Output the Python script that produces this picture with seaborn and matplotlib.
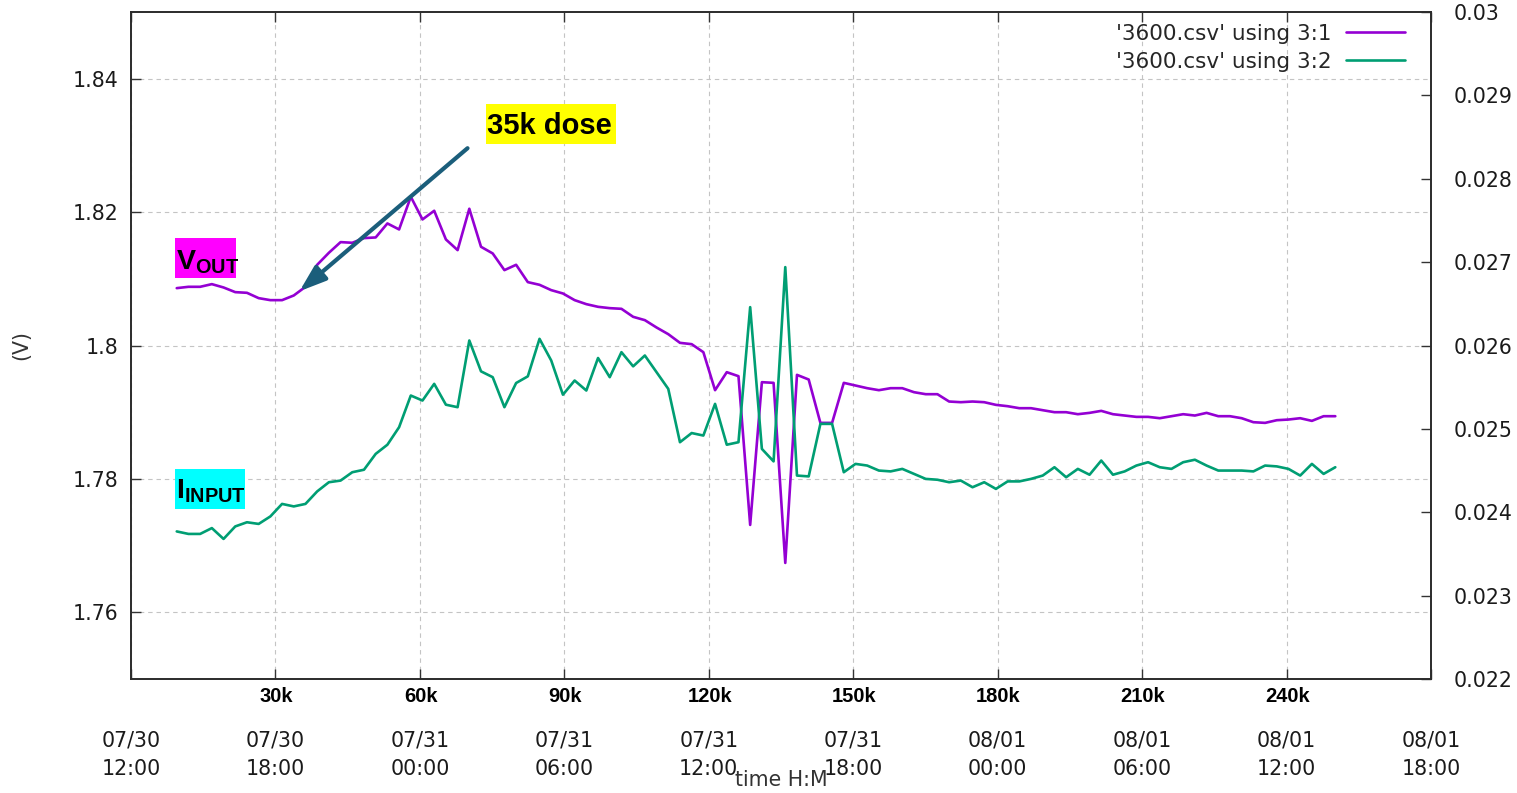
import numpy as np
import pandas as pd
import matplotlib
matplotlib.use("Agg")
import matplotlib.pyplot as plt
import matplotlib.dates as mdates
import matplotlib.transforms as mtransforms
from matplotlib.patches import Rectangle
from matplotlib.ticker import FixedLocator, FuncFormatter
import seaborn as sns

# ---- 3600.csv: column 1 = output voltage (V), column 2 = input current (A), column 3 = time
first_sample = "2024-07-30 13:54"
sample_interval = "1750s"

vout = [1.8086, 1.8088, 1.8088, 1.8092, 1.8087, 1.8080, 1.8079, 1.8071, 1.8068, 1.8068,
        1.8075, 1.8088, 1.8121, 1.8139, 1.8155, 1.8154, 1.8161, 1.8162, 1.8183, 1.8174,
        1.8223, 1.8189, 1.8202, 1.8159, 1.8143, 1.8205, 1.8148, 1.8138, 1.8113, 1.8121,
        1.8095, 1.8091, 1.8083, 1.8078, 1.8068, 1.8062, 1.8058, 1.8056, 1.8055, 1.8043,
        1.8038, 1.8027, 1.8017, 1.8004, 1.8002, 1.7990, 1.7933, 1.7960, 1.7954, 1.7731,
        1.7945, 1.7944, 1.7674, 1.7956, 1.7949, 1.7884, 1.7884, 1.7944, 1.7940, 1.7936,
        1.7933, 1.7936, 1.7936, 1.7930, 1.7927, 1.7927, 1.7916, 1.7915, 1.7916, 1.7915,
        1.7911, 1.7909, 1.7906, 1.7906, 1.7903, 1.7900, 1.7900, 1.7897, 1.7899, 1.7902,
        1.7897, 1.7895, 1.7893, 1.7893, 1.7891, 1.7894, 1.7897, 1.7895, 1.7899, 1.7894,
        1.7894, 1.7891, 1.7885, 1.7884, 1.7888, 1.7889, 1.7891, 1.7887, 1.7894, 1.7894]

iinput = [0.02377, 0.02374, 0.02374, 0.02381, 0.02368, 0.02383, 0.02388, 0.02386, 0.02395, 0.02410,
          0.02407, 0.02410, 0.02425, 0.02436, 0.02438, 0.02448, 0.02451, 0.02470, 0.02481, 0.02502,
          0.02540, 0.02534, 0.02554, 0.02529, 0.02526, 0.02606, 0.02569, 0.02562, 0.02526, 0.02555,
          0.02563, 0.02608, 0.02582, 0.02541, 0.02558, 0.02546, 0.02585, 0.02562, 0.02592, 0.02575,
          0.02588, 0.02568, 0.02548, 0.02484, 0.02495, 0.02492, 0.02530, 0.02481, 0.02484, 0.02646,
          0.02476, 0.02461, 0.02694, 0.02444, 0.02443, 0.02506, 0.02506, 0.02448, 0.02458, 0.02456,
          0.02450, 0.02449, 0.02452, 0.02446, 0.02440, 0.02439, 0.02436, 0.02438, 0.02430, 0.02436,
          0.02428, 0.02437, 0.02437, 0.02440, 0.02444, 0.02454, 0.02442, 0.02452, 0.02445, 0.02462,
          0.02445, 0.02449, 0.02456, 0.02460, 0.02454, 0.02452, 0.02460, 0.02463, 0.02456, 0.02450,
          0.02450, 0.02450, 0.02449, 0.02456, 0.02455, 0.02452, 0.02444, 0.02458, 0.02446, 0.02454]

series_labels = ["'3600.csv' using 3:1", "'3600.csv' using 3:2"]

# ---- axis ranges and dose scale
window_start = "2024-07-30 12:00"
window_end = "2024-08-01 18:00"
vout_range = (1.75, 1.85)
vout_ticks = [1.76, 1.78, 1.80, 1.82, 1.84]
iinput_range = (0.022, 0.030)
iinput_ticks = [0.022, 0.023, 0.024, 0.025, 0.026, 0.027, 0.028, 0.029, 0.030]
dose_rate_k_per_hour = 5
dose_ticks_k = [30, 60, 90, 120, 150, 180, 210, 240]
marked_dose_k = 35

PURPLE = "#9400D3"
GREEN = "#009E73"
ARROW = "#1b5e7b"
INK = "#1a1a1a"

sns.set_style("white")
plt.rcParams["font.family"] = ["DejaVu Sans"]
plt.rcParams["mathtext.fontset"] = "custom"
plt.rcParams["mathtext.bf"] = "Liberation Sans:bold"
plt.rcParams["mathtext.rm"] = "Liberation Sans"

df = pd.DataFrame({
    "time": pd.date_range(first_sample, periods=len(vout), freq=sample_interval),
    "vout": vout,
    "iinput": iinput,
})

W, H = 1517, 793
fig = plt.figure(figsize=(W / 100, H / 100), dpi=100)
ax = fig.add_axes([131 / W, 114 / H, 1300 / W, 667 / H])
ax2 = ax.twinx()

sns.lineplot(data=df, x="time", y="vout", ax=ax, color=PURPLE, linewidth=1.9, legend=False)
sns.lineplot(data=df, x="time", y="iinput", ax=ax2, color=GREEN, linewidth=1.9, legend=False)

t0 = pd.Timestamp(window_start)
ax.set_xlim(t0, pd.Timestamp(window_end))
ax.set_ylim(*vout_range)
ax2.set_ylim(*iinput_range)

FS = 14.8
ax.xaxis.set_major_locator(mdates.HourLocator(byhour=[0, 6, 12, 18]))
ax.xaxis.set_major_formatter(mdates.DateFormatter("%m/%d\n%H:%M"))
ax.yaxis.set_major_locator(FixedLocator(vout_ticks))
ax.yaxis.set_major_formatter(FuncFormatter(lambda v, p: f"{round(v, 4):g}"))
ax2.yaxis.set_major_locator(FixedLocator(iinput_ticks))
ax2.yaxis.set_major_formatter(FuncFormatter(lambda v, p: f"{round(v, 5):g}"))

ax.tick_params(axis="x", direction="in", length=7, width=1, top=True, bottom=True,
               pad=37, labelsize=FS, labelcolor=INK, color="#333333")
ax.tick_params(axis="y", direction="in", length=7, width=1, left=True, right=False,
               pad=9, labelsize=FS, labelcolor=INK, color="#333333")
ax2.tick_params(axis="y", direction="in", length=7, width=1, right=True,
                pad=16, labelsize=FS, labelcolor=INK, color="#333333")

ax.grid(True, color="#c4c4c4", linestyle=(0, (4, 3.5)), linewidth=0.8)
ax2.grid(False)
ax.set_axisbelow(True)
for a in (ax, ax2):
    for s in a.spines.values():
        s.set_color("#2b2b2b")
        s.set_linewidth(1.2)

ax.set_xlabel("time H:M", fontsize=FS, color="#333333")
ax.xaxis.set_label_coords(0.5, -0.137)
ax.set_ylabel("(V)", fontsize=FS, color="#333333")
ax.yaxis.set_label_coords(-0.077, 0.5)
ax2.set_ylabel("")

# dose scale written under the time axis
xform = mtransforms.blended_transform_factory(ax.transData, ax.transAxes)
for d in dose_ticks_k:
    tx = mdates.date2num(t0 + pd.Timedelta(hours=d / dose_rate_k_per_hour))
    ax.text(tx + 0.0015, -0.0255, f"{d}k", transform=xform, ha="center", va="center",
            fontsize=14.5, fontweight="bold", family="Liberation Sans", color="black")

# legend: text first, sample line after it
handles = [ax.lines[0], ax2.lines[0]]
fig.legend(handles, series_labels, loc="upper right",
           bbox_to_anchor=(1405 / W, 1 - 24 / H), bbox_transform=fig.transFigure,
           frameon=False, markerfirst=False, fontsize=15.5, handlelength=2.75,
           handletextpad=0.65, labelspacing=0.36, borderpad=0, borderaxespad=0)

# arrow to the 35k dose point on the output voltage trace
t_mark = t0 + pd.Timedelta(hours=marked_dose_k / dose_rate_k_per_hour)
x_num = mdates.date2num(df["time"])
t_mark_num = mdates.date2num(t_mark)
v_mark = np.interp(t_mark_num, x_num, df["vout"].to_numpy())
ax.annotate("", xy=(t_mark_num, v_mark), xytext=(168, 143), textcoords="offset pixels",
            arrowprops=dict(arrowstyle="-|>,head_length=0.8,head_width=0.28",
                            color=ARROW, lw=3, mutation_scale=20, shrinkA=0, shrinkB=0),
            zorder=5)

# highlighted labels
def fx(px):
    return px / W


def fy(py):
    return 1 - py / H


def label_box(x0, y0, x1, y1, face):
    fig.add_artist(Rectangle((fx(x0), fy(y1)), fx(x1) - fx(x0), fy(y0) - fy(y1),
                             transform=fig.transFigure, facecolor=face, edgecolor="none",
                             zorder=6))


label_box(486, 104, 616, 144, "#ffff00")
fig.text(fx(487), fy(134.5), "35k dose", ha="left", va="baseline", fontsize=21,
         fontweight="bold", family="Liberation Sans", color="black", zorder=7)

label_box(175, 238, 236, 277.5, "#ff00ff")
fig.text(fx(176), fy(270), r"$\mathbf{V_{OUT}}$", ha="left", va="baseline",
         fontsize=20.5, color="black", zorder=7)

label_box(175, 468.5, 245, 508.5, "#00ffff")
fig.text(fx(176), fy(498.5), r"$\mathbf{I_{INPUT}}$", ha="left", va="baseline",
         fontsize=20.5, color="black", zorder=7)

# two-line date labels with wider line gap
fig.canvas.draw()
for lbl in ax.get_xticklabels():
    lbl.set_linespacing(1.55)

fig.savefig("out.png", dpi=100)
